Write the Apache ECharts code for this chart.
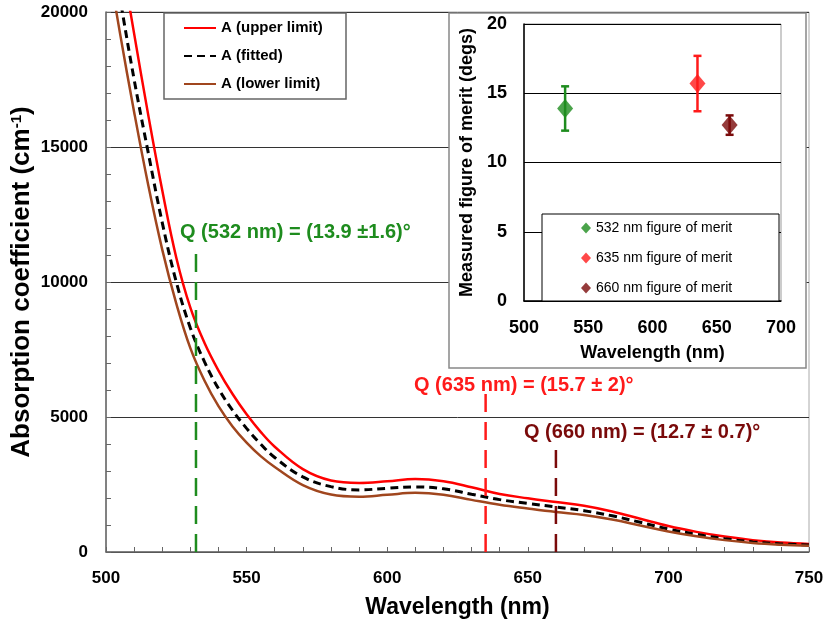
<!DOCTYPE html>
<html>
<head>
<meta charset="utf-8">
<script src="https://cdn.jsdelivr.net/npm/echarts@6/dist/echarts.min.js"></script>
<style>
  html, body { margin: 0; padding: 0; background: #fff; }
  #chart { width: 825px; height: 623px; }
</style>
</head>
<body>
<div id="chart"></div>
<script>
// absorption curves
var wavelength = [500, 505, 510, 515, 520, 525, 530, 535, 540, 545, 550, 555, 560, 570, 580, 590, 600, 610, 620, 630, 640, 650, 660, 670, 680, 690, 700, 710, 720, 730, 740, 750];
var upperLimit = [25700, 22300, 19200, 16200, 13400, 10900, 9050, 7750, 6720, 5850, 5100, 4450, 3900, 3070, 2650, 2560, 2620, 2700, 2620, 2400, 2150, 1990, 1850, 1710, 1500, 1230, 960, 745, 570, 440, 350, 300];
var fitted     = [23600, 20500, 17500, 14800, 12200, 10000, 8300, 7050, 6050, 5250, 4580, 4000, 3500, 2780, 2420, 2300, 2360, 2410, 2340, 2140, 1940, 1800, 1667, 1530, 1340, 1100, 850, 655, 495, 375, 300, 260];
var lowerLimit = [22300, 19200, 16300, 13600, 11200, 9200, 7550, 6350, 5400, 4650, 4050, 3550, 3150, 2480, 2130, 2050, 2120, 2190, 2120, 1930, 1750, 1610, 1480, 1370, 1200, 980, 760, 580, 440, 335, 270, 230];

// figure of merit measurements
var fomNames = ['532 nm figure of merit', '635 nm figure of merit', '660 nm figure of merit'];
var fomWl = [532, 635, 660];
var fomVal = [13.9, 15.7, 12.7];
var fomErr = [1.6, 2, 0.7];
var fomColors = ['#1e8c1e', '#ff1a1a', '#7a0a0a'];

// vertical marker lines
var markTop = [11200, 6000, 4000];
var markLabels = ['Q (532 nm) = (13.9 \u00b11.6)\u00b0', 'Q (635 nm) = (15.7 \u00b1 2)\u00b0', 'Q (660 nm) = (12.7 \u00b1 0.7)\u00b0'];

var FONT = 'Liberation Sans, Arial, sans-serif';

function zip(xs, ys) {
  return xs.map(function (x, i) { return [x, ys[i]]; });
}

function renderErr(params, api) {
  var x = api.value(0);
  var pLo = api.coord([x, api.value(1)]);
  var pHi = api.coord([x, api.value(2)]);
  var w = 4;
  var st = { stroke: api.visual('color'), lineWidth: 2.5 };
  return {
    type: 'group',
    children: [
      { type: 'line', shape: { x1: pLo[0], y1: pLo[1], x2: pHi[0], y2: pHi[1] }, style: st },
      { type: 'line', shape: { x1: pLo[0] - w, y1: pLo[1], x2: pLo[0] + w, y2: pLo[1] }, style: st },
      { type: 'line', shape: { x1: pHi[0] - w, y1: pHi[1], x2: pHi[0] + w, y2: pHi[1] }, style: st }
    ]
  };
}

var myChart = echarts.init(document.getElementById('chart'));

var series = [
  { name: 'A (upper limit)', type: 'line', data: zip(wavelength, upperLimit), smooth: 0.4, symbol: 'none',
    lineStyle: { color: '#ff0000', width: 2.5 }, itemStyle: { color: '#ff0000' } },
  { name: 'A (fitted)', type: 'line', data: zip(wavelength, fitted), smooth: 0.4, symbol: 'none',
    lineStyle: { color: '#000', width: 3, type: [8, 5] }, itemStyle: { color: '#000' } },
  { name: 'A (lower limit)', type: 'line', data: zip(wavelength, lowerLimit), smooth: 0.4, symbol: 'none',
    lineStyle: { color: '#a0461e', width: 2.5 }, itemStyle: { color: '#a0461e' } }
];

fomWl.forEach(function (wl, i) {
  series.push({
    type: 'line', data: [[wl, 0], [wl, markTop[i]]], symbol: 'none', silent: true,
    lineStyle: { color: fomColors[i], width: 2.5, type: [18, 10] }
  });
});

series.push({
  type: 'custom', xAxisIndex: 1, yAxisIndex: 1, z: 8, silent: true,
  renderItem: renderErr,
  data: fomWl.map(function (wl, i) {
    return { value: [wl, fomVal[i] - fomErr[i], fomVal[i] + fomErr[i]], itemStyle: { color: fomColors[i] } };
  })
});

fomWl.forEach(function (wl, i) {
  series.push({
    name: fomNames[i], type: 'scatter', xAxisIndex: 1, yAxisIndex: 1, z: 9,
    symbol: 'diamond', symbolSize: [16, 19],
    itemStyle: { color: fomColors[i] },
    data: [[wl, fomVal[i]]]
  });
});

var graphics = [
  { type: 'rect', z: 5, shape: { x: 164, y: 13, width: 182, height: 86 },
    style: { fill: '#fff', stroke: '#666', lineWidth: 1.5 } },
  { type: 'rect', z: 5, shape: { x: 449, y: 13, width: 357, height: 355 },
    style: { fill: '#fff', stroke: '#888', lineWidth: 1.5 } },
  { type: 'rect', z: 7, shape: { x: 542, y: 214, width: 237, height: 87 },
    style: { fill: '#fff', stroke: '#000', lineWidth: 1 } }
];
var textPos = [[180, 232], [414, 385], [524, 432]];
markLabels.forEach(function (t, i) {
  graphics.push({
    type: 'text', z: 10, x: textPos[i][0], y: textPos[i][1],
    style: { text: t, fill: fomColors[i], font: 'bold 20px ' + FONT, verticalAlign: 'middle' }
  });
});

var option = {
  backgroundColor: '#fff',
  animation: false,
  textStyle: { fontFamily: FONT },
  grid: [
    { left: 106, top: 12, right: 16, bottom: 71, outerBoundsMode: 'none', containLabel: false,
      show: true, borderColor: '#aaa', borderWidth: 1 },
    { left: 524, top: 24, right: 44, bottom: 322, outerBoundsMode: 'none', containLabel: false,
      show: true, borderColor: '#999', borderWidth: 1, z: 6 }
  ],
  xAxis: [
    { type: 'value', gridIndex: 0, min: 500, max: 750, interval: 50,
      name: 'Wavelength (nm)', nameLocation: 'middle', nameGap: 44,
      nameTextStyle: { fontSize: 23, fontWeight: 'bold', color: '#000' },
      axisLine: { lineStyle: { color: '#666', width: 1.5 } },
      axisTick: { show: true, inside: true, length: 5, lineStyle: { color: '#666' } },
      minorTick: { show: true, splitNumber: 5, length: 5, lineStyle: { color: '#666' } },
      axisLabel: { fontSize: 17, fontWeight: 'bold', color: '#000', margin: 18 },
      splitLine: { show: false } },
    { type: 'value', gridIndex: 1, min: 500, max: 700, interval: 50, z: 6,
      name: 'Wavelength (nm)', nameLocation: 'middle', nameGap: 43,
      nameTextStyle: { fontSize: 18, fontWeight: 'bold', color: '#000' },
      axisLine: { lineStyle: { color: '#000', width: 1.5 } },
      axisTick: { show: false },
      axisLabel: { fontSize: 18, fontWeight: 'bold', color: '#000', margin: 18 },
      splitLine: { show: false } }
  ],
  yAxis: [
    { type: 'value', gridIndex: 0, min: 0, max: 20000, interval: 5000,
      name: '{a|Absorption coefficient (cm}{s|-1}{a|)}', nameLocation: 'middle', nameGap: 71,
      nameMoveOverlap: false,
      nameTextStyle: { rich: {
        a: { fontSize: 26, fontWeight: 'bold', color: '#000', fontFamily: FONT },
        s: { fontSize: 15, fontWeight: 'bold', color: '#000', fontFamily: FONT, verticalAlign: 'top' }
      } },
      axisLine: { show: true, lineStyle: { color: '#666', width: 1.5 } },
      axisTick: { show: true, inside: true, length: 5, lineStyle: { color: '#666' } },
      minorTick: { show: true, splitNumber: 5, length: 5, lineStyle: { color: '#666' } },
      axisLabel: { fontSize: 17, fontWeight: 'bold', color: '#000', margin: 18,
        formatter: function (v) { return String(v); } },
      splitLine: { show: true, lineStyle: { color: '#333', width: 1 } } },
    { type: 'value', gridIndex: 1, min: 0, max: 20, interval: 5, z: 6,
      name: 'Measured figure of merit (degs)', nameLocation: 'middle', nameGap: 48,
      nameTextStyle: { fontSize: 18, fontWeight: 'bold', color: '#000' },
      axisLine: { show: true, lineStyle: { color: '#000', width: 1.5 } },
      axisTick: { show: false },
      axisLabel: { fontSize: 18, fontWeight: 'bold', color: '#000', margin: 17 },
      splitLine: { show: true, lineStyle: { color: '#000', width: 1 } } }
  ],
  legend: [
    { data: ['A (upper limit)', 'A (fitted)', 'A (lower limit)'], orient: 'vertical',
      left: 183, top: 20, padding: 0, itemGap: 12, itemWidth: 32, itemHeight: 14, z: 11,
      itemStyle: { opacity: 0 },
      textStyle: { fontSize: 15, fontWeight: 600, color: '#000', lineHeight: 16 } },
    { data: fomNames, orient: 'vertical', icon: 'diamond',
      left: 581, top: 220, padding: 0, itemGap: 14, itemWidth: 10, itemHeight: 11, z: 11,
      textStyle: { fontSize: 14, color: '#000', lineHeight: 16 } }
  ],
  graphic: graphics,
  series: series
};

myChart.setOption(option);
</script>
</body>
</html>
